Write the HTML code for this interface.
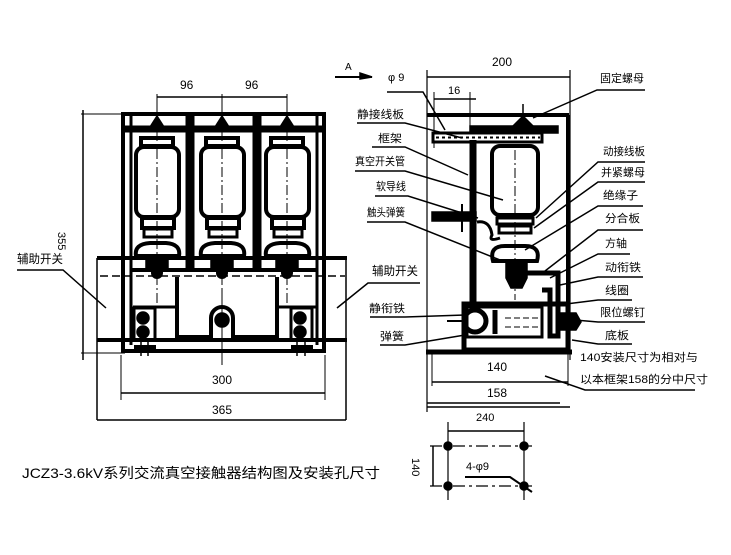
<!DOCTYPE html>
<html><head><meta charset="utf-8"><style>
html,body{margin:0;padding:0;background:#fff;width:731px;height:555px;overflow:hidden}
text{font-family:"Liberation Sans","Noto Sans CJK SC",sans-serif;fill:#000}
</style></head><body>
<svg width="731" height="555" viewBox="0 0 731 555" xmlns="http://www.w3.org/2000/svg">
<g stroke="#000" fill="none" stroke-width="1.5">
<!-- ===== LEFT VIEW ===== -->
<!-- side rails -->
<line x1="97" y1="258" x2="347" y2="258" stroke-width="4"/>
<line x1="97" y1="340" x2="347" y2="340" stroke-width="4"/>
<line x1="97" y1="258" x2="97" y2="420"/>
<line x1="346" y1="258" x2="346" y2="420"/>
<!-- frame -->
<rect x="123" y="114" width="201" height="237" stroke-width="4"/>
<line x1="131" y1="114" x2="131" y2="345" stroke-width="3"/>
<line x1="317" y1="114" x2="317" y2="345" stroke-width="3"/>
<line x1="123" y1="129" x2="324" y2="129" stroke-width="7"/>
<line x1="190" y1="114" x2="190" y2="270" stroke-width="9"/>
<line x1="257" y1="114" x2="257" y2="270" stroke-width="9"/>
<line x1="131" y1="270" x2="317" y2="270" stroke-width="4"/>
<line x1="100" y1="276" x2="345" y2="276" stroke-dasharray="8,4" stroke-width="1.5"/>
<!-- poles -->
<g id="pole">
<polygon points="150,127 157,116 164,127" fill="#000"/>
<rect x="141" y="138" width="32" height="8" stroke-width="4"/>
<rect x="136" y="147" width="43" height="70" rx="8" stroke-width="4"/>
<rect x="142" y="218" width="32" height="10" stroke-width="4"/>
<rect x="144" y="229" width="28" height="8" stroke-width="3"/>
<path d="M136 256 Q134 244 150 243 L166 243 Q181 244 179 256 Z" stroke-width="4"/>
<rect x="146" y="256" width="22" height="12" fill="#000"/>
<circle cx="157" cy="273" r="6" fill="#000" stroke="none"/>
<line x1="157" y1="95" x2="157" y2="305" stroke-width="1" stroke-dasharray="10,3,2,3"/>
</g>
<use href="#pole" x="65"/>
<use href="#pole" x="130"/>
<!-- lower center box -->
<path d="M177 277 V337 H211 V318 A11 11 0 0 1 233 318 V337 H277 V277" stroke-width="4"/>
<circle cx="222" cy="320" r="7" fill="#000"/>
<line x1="222" y1="290" x2="222" y2="365" stroke-width="1"/>
<line x1="133" y1="307" x2="177" y2="307" stroke-width="3"/>
<line x1="277" y1="307" x2="317" y2="307" stroke-width="3"/>
<!-- side switch boxes -->
<rect x="134" y="308" width="21" height="32" stroke-width="3"/>
<circle cx="143" cy="318" r="6" fill="#000"/><circle cx="143" cy="332" r="6" fill="#000"/>
<rect x="291" y="308" width="21" height="32" stroke-width="3"/>
<circle cx="300" cy="318" r="6" fill="#000"/><circle cx="300" cy="332" r="6" fill="#000"/>
<line x1="134" y1="347" x2="156" y2="347" stroke-width="4"/>
<line x1="291" y1="347" x2="313" y2="347" stroke-width="4"/>
<line x1="141" y1="341" x2="141" y2="356"/><line x1="148" y1="341" x2="148" y2="356"/>
<line x1="297" y1="341" x2="297" y2="356"/><line x1="305" y1="341" x2="305" y2="356"/>
<!-- dimensions left view -->
<line x1="157" y1="97" x2="287" y2="97"/>
<line x1="157" y1="94" x2="157" y2="118" stroke-width="1"/>
<line x1="222" y1="94" x2="222" y2="118" stroke-width="1"/>
<line x1="287" y1="94" x2="287" y2="118" stroke-width="1"/>
<line x1="121" y1="355" x2="121" y2="400" stroke-width="1"/>
<line x1="325" y1="355" x2="325" y2="400" stroke-width="1"/>
<line x1="121" y1="393" x2="325" y2="393"/>
<line x1="97" y1="420" x2="346" y2="420"/>
<line x1="81" y1="114" x2="121" y2="114" stroke-width="1"/>
<line x1="81" y1="353" x2="125" y2="353" stroke-width="1"/>
<line x1="83" y1="110" x2="83" y2="360"/>
<!-- leaders left view -->
<polyline points="17,270 63,270 106,308"/>
<polyline points="420,283 368,283 337,308"/>

<!-- ===== RIGHT VIEW ===== -->
<line x1="427" y1="70" x2="427" y2="412" stroke-width="1.2"/>
<line x1="570" y1="70" x2="570" y2="360" stroke-width="1.2"/>
<line x1="427" y1="77" x2="570" y2="77"/>
<line x1="434" y1="92" x2="434" y2="148" stroke-width="1"/>
<line x1="470" y1="92" x2="470" y2="130" stroke-width="1"/>
<line x1="434" y1="99" x2="476" y2="99"/>
<line x1="427" y1="115" x2="569" y2="115" stroke-width="4"/>
<line x1="568" y1="115" x2="568" y2="353" stroke-width="4"/>
<line x1="426" y1="352" x2="572" y2="352" stroke-width="5"/>
<rect x="470" y="126" width="88" height="7" fill="#000"/>
<rect x="433" y="133" width="109" height="9" stroke-width="3"/>
<line x1="436" y1="137.5" x2="540" y2="137.5" stroke-width="2" stroke-dasharray="3,3"/>
<line x1="523" y1="104" x2="523" y2="126"/>
<path d="M513 126 L523 116 L533 126 Z" fill="#000"/>
<line x1="473" y1="140" x2="473" y2="303" stroke-width="7"/>
<rect x="492" y="146" width="46" height="69" rx="8" stroke-width="4"/>
<line x1="515" y1="150" x2="515" y2="300" stroke-width="1" stroke-dasharray="10,3,2,3"/>
<rect x="497" y="218" width="36" height="6" stroke-width="3"/>
<rect x="499" y="226" width="32" height="7" stroke-width="3"/>
<path d="M493 261 Q489 246 505 246 L525 246 Q541 246 537 261 Z" stroke-width="4"/>
<path d="M506 262 H527 V278 L522 288 H511 L506 278 Z" fill="#000"/>
<rect x="432" y="212" width="44" height="9" fill="#000"/>
<line x1="462" y1="204" x2="462" y2="232" stroke-width="2"/>
<path d="M477 222 Q490 220 492 235 Q488 242 500 238" stroke-width="3"/>
<path d="M527 273 H558 V336 H550 V290 H542" stroke-width="5"/>
<rect x="464" y="304" width="104" height="46" stroke-width="5"/>
<rect x="467" y="307" width="75" height="30" stroke-width="3"/>
<line x1="495" y1="310" x2="495" y2="334" stroke-width="5"/>
<line x1="505" y1="318" x2="540" y2="318" stroke-width="1" stroke-dasharray="6,3"/>
<line x1="505" y1="327" x2="540" y2="327" stroke-width="1" stroke-dasharray="6,3"/>
<circle cx="475" cy="321" r="11" stroke-width="5"/>
<line x1="447" y1="321" x2="464" y2="321" stroke-width="2"/>
<path d="M558 313 H576 L581 322 L576 330 H558 Z" fill="#000"/>
<!-- dims 140 / 158 -->
<line x1="432" y1="354" x2="432" y2="386" stroke-width="1"/>
<line x1="568" y1="354" x2="568" y2="386" stroke-width="1"/>
<line x1="432" y1="382" x2="568" y2="382"/>
<line x1="427" y1="407" x2="570" y2="407"/>
<!-- left labels leaders -->
<polyline points="335,77 372,77" stroke-width="2"/>
<polygon points="372,77 360,73 360,79" fill="#000"/>
<polyline points="387,92 423,92 445,130"/>
<polyline points="357,123 405,123 462,138"/>
<polyline points="372,147 405,147 468,175"/>
<polyline points="355,171 405,171 503,200"/>
<polyline points="375,196 408,196 478,218"/>
<polyline points="367,222 405,222 505,262"/>
<polyline points="370,317 405,317 465,315"/>
<polyline points="380,345 405,345 465,335"/>
<!-- right labels leaders -->
<polyline points="645,90 597,90 533,118"/>
<polyline points="645,162 598,162 536,218"/>
<polyline points="645,182 598,182 534,228"/>
<polyline points="643,206 598,206 525,250"/>
<polyline points="643,230 598,230 545,271"/>
<polyline points="630,254 598,254 550,278"/>
<polyline points="643,277 598,277 560,285"/>
<polyline points="632,300 598,300 558,305"/>
<polyline points="645,322 598,322 575,320"/>
<polyline points="632,344 598,344 572,340"/>
<polyline points="545,376 585,390 695,390"/>
<!-- hole pattern -->
<line x1="427" y1="403" x2="560" y2="403"/>
<line x1="448" y1="422" x2="448" y2="500" stroke-width="1.2"/>
<line x1="524" y1="422" x2="524" y2="500" stroke-width="1.2"/>
<line x1="448" y1="431" x2="524" y2="431"/>
<line x1="430" y1="446" x2="532" y2="446" stroke-width="1.2" stroke-dasharray="12,4,3,4"/>
<line x1="430" y1="486" x2="532" y2="486" stroke-width="1.2" stroke-dasharray="12,4,3,4"/>
<line x1="433" y1="446" x2="433" y2="486"/>
<circle cx="448" cy="446" r="4" fill="#000"/><circle cx="524" cy="446" r="4" fill="#000"/>
<circle cx="448" cy="486" r="4" fill="#000"/><circle cx="524" cy="486" r="4" fill="#000"/>
<polyline points="465,477 510,477 532,492" stroke-width="2"/>
</g>
<g font-size="12">
<text x="180" y="89">96</text><text x="245" y="89">96</text>
<text x="212" y="384">300</text><text x="212" y="414">365</text>
<text transform="translate(58,232) rotate(90)" font-size="11">355</text>
<text x="17" y="263" textLength="46" lengthAdjust="spacingAndGlyphs">辅助开关</text>
<text x="372" y="275" textLength="46" lengthAdjust="spacingAndGlyphs">辅助开关</text>
<text x="345" y="70" font-size="10">A</text>
<text x="388" y="81" font-size="11">φ 9</text>
<text x="492" y="66">200</text>
<text x="448" y="94" font-size="11">16</text>
<g font-size="11">
<text x="357" y="118" textLength="47" lengthAdjust="spacingAndGlyphs">静接线板</text>
<text x="378" y="142" textLength="24" lengthAdjust="spacingAndGlyphs">框架</text>
<text x="355" y="165" textLength="50" lengthAdjust="spacingAndGlyphs">真空开关管</text>
<text x="376" y="190" textLength="30" lengthAdjust="spacingAndGlyphs">软导线</text>
<text x="367" y="216" textLength="38" lengthAdjust="spacingAndGlyphs">触头弹簧</text>
<text x="369" y="312" textLength="36" lengthAdjust="spacingAndGlyphs">静衔铁</text>
<text x="380" y="340" textLength="24" lengthAdjust="spacingAndGlyphs">弹簧</text>
<text x="600" y="82" textLength="44" lengthAdjust="spacingAndGlyphs">固定螺母</text>
<text x="603" y="155" textLength="42" lengthAdjust="spacingAndGlyphs">动接线板</text>
<text x="601" y="176" textLength="44" lengthAdjust="spacingAndGlyphs">并紧螺母</text>
<text x="603" y="199" textLength="35" lengthAdjust="spacingAndGlyphs">绝缘子</text>
<text x="605" y="222" textLength="35" lengthAdjust="spacingAndGlyphs">分合板</text>
<text x="605" y="247" textLength="22" lengthAdjust="spacingAndGlyphs">方轴</text>
<text x="605" y="271" textLength="36" lengthAdjust="spacingAndGlyphs">动衔铁</text>
<text x="605" y="294" textLength="24" lengthAdjust="spacingAndGlyphs">线圈</text>
<text x="600" y="316" textLength="45" lengthAdjust="spacingAndGlyphs">限位螺钉</text>
<text x="605" y="339" textLength="24" lengthAdjust="spacingAndGlyphs">底板</text>
<text x="580" y="361" textLength="118" lengthAdjust="spacingAndGlyphs">140安装尺寸为相对与</text>
<text x="580" y="383" textLength="128" lengthAdjust="spacingAndGlyphs">以本框架158的分中尺寸</text>
</g>
<text x="487" y="371">140</text>
<text x="487" y="397">158</text>
<text x="476" y="421" font-size="11">240</text>
<text transform="translate(412,458) rotate(90)" font-size="11">140</text>
<text x="466" y="470" font-size="11">4-φ9</text>
<text x="22" y="478" font-size="14" textLength="358" lengthAdjust="spacingAndGlyphs">JCZ3-3.6kV系列交流真空接触器结构图及安装孔尺寸</text>
</g>
</svg>
</body></html>
